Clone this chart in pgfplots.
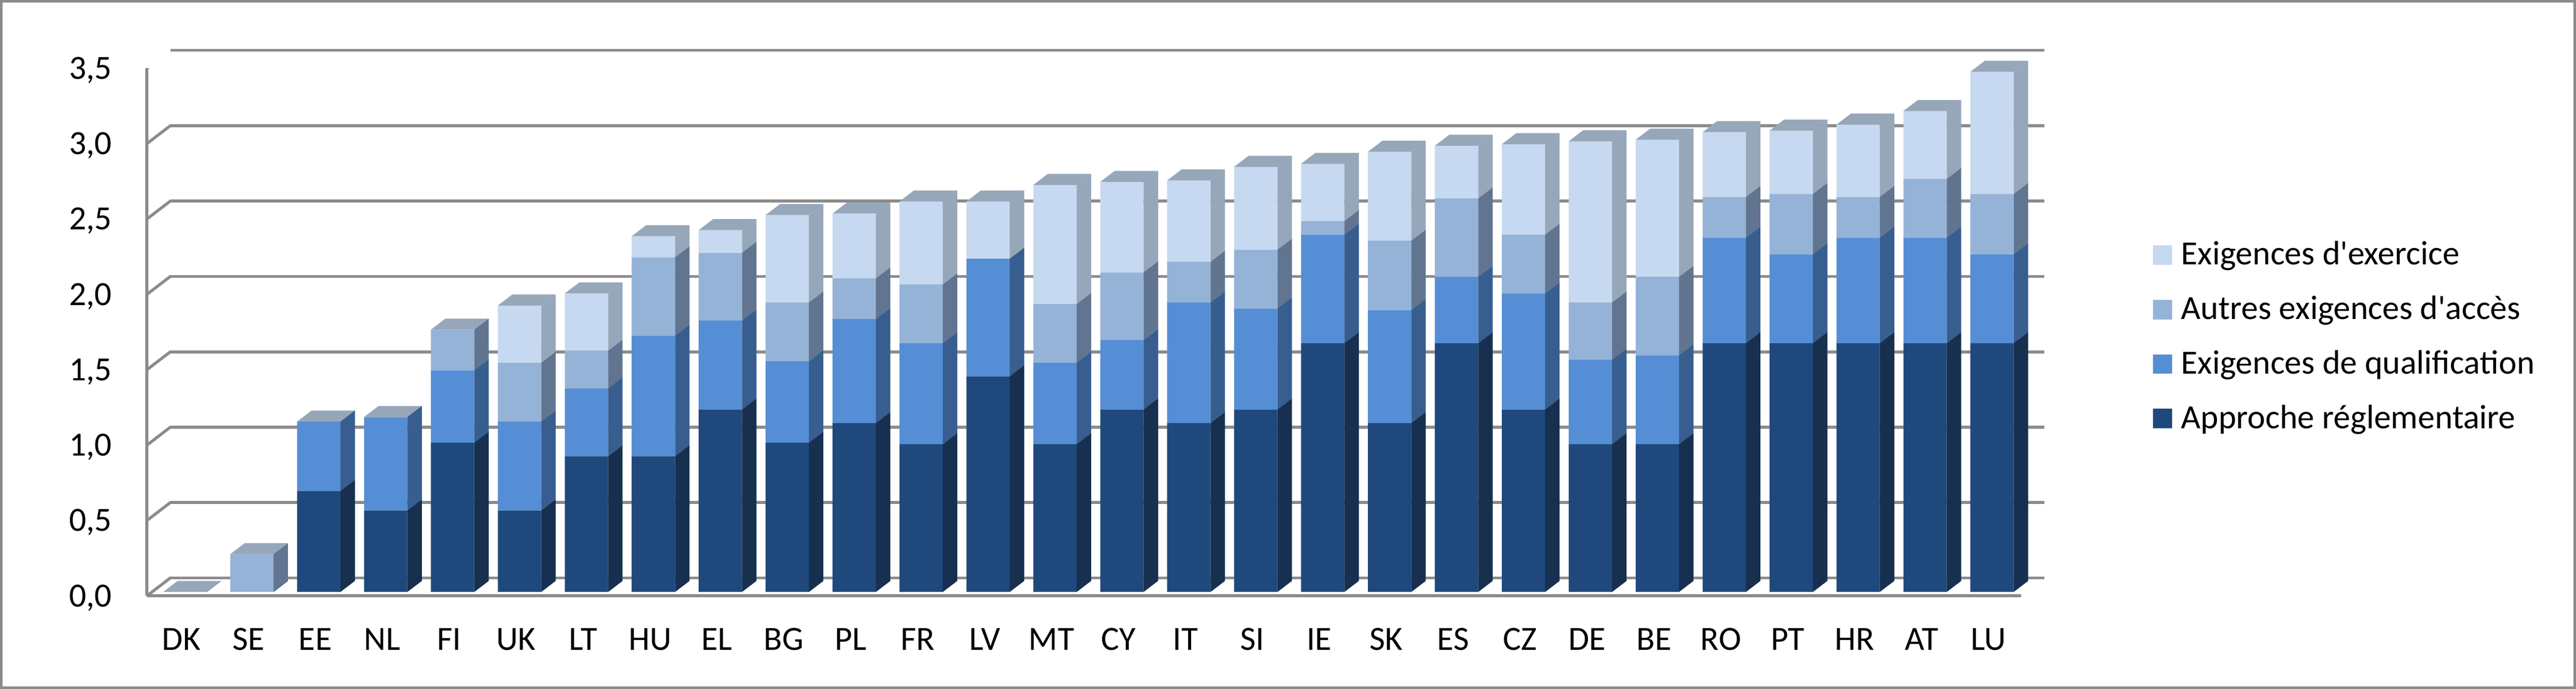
\documentclass[border=0pt]{standalone}
\usepackage{pgfplots}
\pgfplotsset{compat=1.18}
\usepackage{pgfplotstable}
\usepackage{fontspec}
\setmainfont{Carlito}
\definecolor{cA}{HTML}{1F497D}
\definecolor{cQ}{HTML}{558ED5}
\definecolor{cAu}{HTML}{95B3D7}
\definecolor{cEx}{HTML}{C6D9F1}
\definecolor{sA}{HTML}{17304F}
\definecolor{sQ}{HTML}{375E8F}
\definecolor{sAu}{HTML}{617591}
\definecolor{sEx}{HTML}{818F9F}
\definecolor{cTop}{HTML}{97A7BA}
\definecolor{gridc}{HTML}{8B8B8B}

\pgfplotstableread{
i name A Q Au Ex
0 DK 0 0 0 0
1 SE 0 0 0.25 0
2 EE 0.67 0.46 0 0
3 NL 0.54 0.62 0 0
4 FI 0.99 0.48 0.27 0
5 UK 0.54 0.59 0.39 0.38
6 LT 0.90 0.45 0.25 0.38
7 HU 0.90 0.80 0.52 0.14
8 EL 1.21 0.59 0.45 0.15
9 BG 0.99 0.54 0.39 0.58
10 PL 1.12 0.69 0.27 0.43
11 FR 0.98 0.67 0.39 0.55
12 LV 1.43 0.78 0 0.38
13 MT 0.98 0.54 0.39 0.79
14 CY 1.21 0.46 0.45 0.60
15 IT 1.12 0.80 0.27 0.54
16 SI 1.21 0.67 0.39 0.55
17 IE 1.65 0.72 0.09 0.38
18 SK 1.12 0.75 0.46 0.59
19 ES 1.65 0.44 0.52 0.35
20 CZ 1.21 0.77 0.39 0.60
21 DE 0.98 0.56 0.38 1.07
22 BE 0.98 0.59 0.52 0.91
23 RO 1.65 0.70 0.27 0.43
24 PT 1.65 0.59 0.40 0.42
25 HR 1.65 0.70 0.27 0.48
26 AT 1.65 0.70 0.39 0.45
27 LU 1.65 0.59 0.40 0.81
}\datatable

% side face of a stacked segment (height \hval in data units, 36.5bp per unit)
\pgfdeclareplotmark{sideface}{%
  \pgfmathsetmacro\sfB{-36.5*\hval}%
  \pgfmathsetmacro\sfT{-36.5*\hval+2.67}%
  \pgfpathmoveto{\pgfpoint{5.25bp}{0bp}}%
  \pgfpathlineto{\pgfpoint{8.75bp}{2.67bp}}%
  \pgfpathlineto{\pgfpoint{8.75bp}{\sfT bp}}%
  \pgfpathlineto{\pgfpoint{5.25bp}{\sfB bp}}%
  \pgfpathclose
  \pgfusepath{fill}%
}
\pgfdeclareplotmark{sidetop}{%
  \pgfmathsetmacro\sfB{-36.5*\hval}%
  \pgfmathsetmacro\sfT{-36.5*\hval+2.67}%
  \pgfpathmoveto{\pgfpoint{5.25bp}{0bp}}%
  \pgfpathlineto{\pgfpoint{8.75bp}{2.67bp}}%
  \pgfpathlineto{\pgfpoint{8.75bp}{\sfT bp}}%
  \pgfpathlineto{\pgfpoint{5.25bp}{\sfB bp}}%
  \pgfpathclose
  \pgfusepath{fill}%
  \pgfsetfillcolor{cTop}%
  \pgfpathmoveto{\pgfpoint{-5.25bp}{0bp}}%
  \pgfpathlineto{\pgfpoint{5.25bp}{0bp}}%
  \pgfpathlineto{\pgfpoint{8.75bp}{2.67bp}}%
  \pgfpathlineto{\pgfpoint{-1.75bp}{2.67bp}}%
  \pgfpathclose
  \pgfusepath{fill}%
}

\pgfplotsset{base/.style={x=16.21bp, y=36.5bp, xmin=-0.5, xmax=27.5,
  ymin=0, ymax=3.5, anchor=south west}}
\newcommand{\chartfont}{\fontsize{8.2bp}{9.8bp}\selectfont}

\begin{document}
\begin{tikzpicture}
\useasboundingbox (0,0) rectangle (623.9bp,166.8bp);
\draw[gridc, line width=0.6bp] (0.3bp,0.3bp) rectangle (623.6bp,166.5bp);

% back wall with gridlines
\begin{axis}[base, at={(41.25bp,26.86bp)},
  axis line style={draw=none}, major tick length=0pt,
  xtick=\empty, ytick={0,0.5,1,1.5,2,2.5,3,3.5}, yticklabels={},
  ymajorgrids, grid style={gridc, line width=0.7bp}]
\addplot[draw=none] coordinates {(0,0)};
\end{axis}

% front plane: floor edge, left wall, tick labels
\begin{axis}[base, at={(35.6bp,22.53bp)},
  axis x line*=bottom, axis y line*=left,
  axis line style={gridc, line width=0.7bp, -},
  major tick length=0pt,
  xtick={0,...,27}, xticklabels from table={\datatable}{name},
  ytick={0,0.5,1,1.5,2,2.5,3,3.5},
  tick label style={font=\chartfont, text=black},
  yticklabel style={anchor=east, inner sep=0pt, xshift=-8.3bp,
    text height=5.2bp, text depth=0pt},
  xticklabel style={anchor=north, inner sep=0pt, yshift=-7.7bp, xshift=0.25bp,
    text height=5.3bp, text depth=0pt},
  /pgf/number format/fixed, /pgf/number format/fixed zerofill,
  /pgf/number format/precision=1, /pgf/number format/use comma,
  /pgf/number format/assume math mode=true]
\addplot[draw=none] coordinates {(0,0)};
\pgfplotsinvokeforeach{0,0.5,1,1.5,2,2.5,3,3.5}{
  \draw[gridc, line width=0.7bp, line cap=round] (axis cs:-0.5,#1) -- ++(5.65bp,4.33bp);
}
\draw[gridc, line width=0.7bp, line cap=round] (axis cs:27.5,0) -- ++(5.65bp,4.33bp);
\end{axis}

% front faces of the bars
\begin{axis}[base, at={(36.68bp,23.47bp)}, hide axis,
  ybar stacked, bar width=10.5bp,
  reverse legend, legend cell align=left,
  legend image code/.code={\fill[#1, draw=none] (0bp,0bp) rectangle (4.7bp,4.7bp);},
  legend style={at={(1.0675,0.664)}, anchor=north west, draw=none, fill=none,
    inner sep=0pt, row sep=7.8bp, font=\chartfont,
    nodes={inner sep=0pt, text height=5.4bp, text depth=0pt, anchor=base west},
    /tikz/every odd column/.append style={column sep=2.2bp}}]
\addplot[fill=cA, draw=none] table[x=i, y=A] {\datatable};
\addplot[fill=cQ, draw=none] table[x=i, y=Q] {\datatable};
\addplot[fill=cAu, draw=none] table[x=i, y=Au] {\datatable};
\addplot[fill=cEx, draw=none] table[x=i, y=Ex] {\datatable};
\legend{Approche réglementaire, Exigences de qualification,
  Autres exigences d\textquotesingle accès, Exigences d\textquotesingle exercice}
\end{axis}

% side and top faces
\begin{axis}[base, at={(36.68bp,23.47bp)}, hide axis, stack plots=y, clip=false]
\addplot[only marks, mark=sideface, color=sA, mark options={fill=sA},
  visualization depends on={\thisrow{A} \as \hval}] table[x=i, y=A] {\datatable};
\addplot[only marks, mark=sideface, color=sQ, mark options={fill=sQ},
  visualization depends on={\thisrow{Q} \as \hval}] table[x=i, y=Q] {\datatable};
\addplot[only marks, mark=sideface, color=sAu, mark options={fill=sAu},
  visualization depends on={\thisrow{Au} \as \hval}] table[x=i, y=Au] {\datatable};
\addplot[only marks, mark=sidetop, color=sEx, mark options={fill=sEx},
  visualization depends on={\thisrow{Ex} \as \hval}] table[x=i, y=Ex] {\datatable};
\end{axis}
\end{tikzpicture}
\end{document}
